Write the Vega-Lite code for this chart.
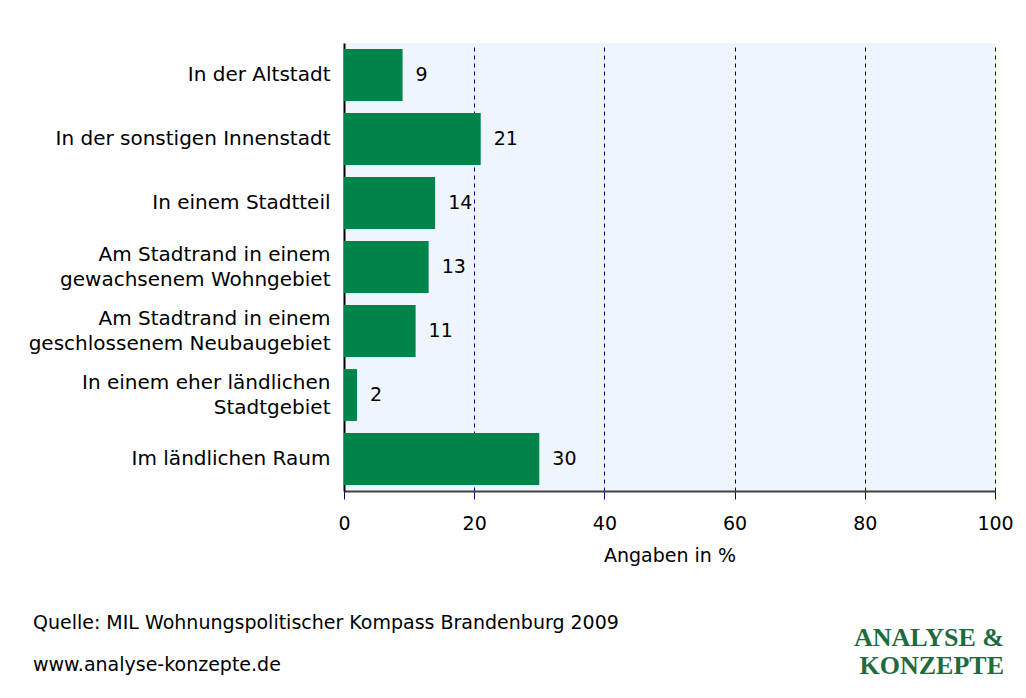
{
  "$schema": "https://vega.github.io/schema/vega-lite/v6.json",
  "autosize": "pad",
  "padding": {"left": 28, "top": 43, "right": 21, "bottom": 20},
  "background": "white",
  "bounds": "flush",
  "title": {
    "text": "Quelle: MIL Wohnungspolitischer Kompass Brandenburg 2009",
    "subtitle": "www.analyse-konzepte.de",
    "orient": "bottom",
    "anchor": "start",
    "frame": "group",
    "offset": -65,
    "dx": -311,
    "font": "DejaVu Sans",
    "fontSize": 19,
    "fontWeight": "normal",
    "color": "#000000",
    "subtitleFont": "DejaVu Sans",
    "subtitleFontSize": 19,
    "subtitleColor": "#000000",
    "subtitlePadding": 23
  },
  "config": {
    "view": {"stroke": null},
    "font": "DejaVu Sans"
  },
  "data": {
    "values": [
      {"cat": "In der Altstadt", "value": 9},
      {"cat": "In der sonstigen Innenstadt", "value": 21},
      {"cat": "In einem Stadtteil", "value": 14},
      {"cat": "Am Stadtrand in einem|gewachsenem Wohngebiet", "value": 13},
      {"cat": "Am Stadtrand in einem|geschlossenem Neubaugebiet", "value": 11},
      {"cat": "In einem eher ländlichen|Stadtgebiet", "value": 2},
      {"cat": "Im ländlichen Raum", "value": 30}
    ]
  },
  "vconcat": [
    {
      "width": 651,
      "height": 448,
      "view": {"fill": "#EEF5FD", "stroke": null},
      "title": {
        "text": "ANALYSE &",
        "subtitle": "KONZEPTE",
        "orient": "bottom",
        "anchor": "end",
        "frame": "group",
        "offset": 60,
        "dx": 9,
        "font": "Liberation Serif",
        "fontSize": 26,
        "fontWeight": "bold",
        "color": "#1E6B3E",
        "subtitleFont": "Liberation Serif",
        "subtitleFontSize": 26,
        "subtitleFontWeight": "bold",
        "subtitleColor": "#1E6B3E",
        "subtitlePadding": 2
      },
      "encoding": {
        "y": {
          "field": "cat",
          "type": "nominal",
          "sort": null,
          "scale": {"paddingInner": 0.19, "paddingOuter": 0.095},
          "axis": {
            "title": null,
            "labelExpr": "split(datum.label, '|')",
            "labelFontSize": 20,
            "labelColor": "#000000",
            "labelPadding": 14,
            "labelLineHeight": 25,
            "labelOffset": {"condition": {"test": "indexof(datum.value, '|') >= 0", "value": -12}, "value": 0},
            "labelLimit": 400,
            "ticks": false,
            "domain": true,
            "domainColor": "#000000",
            "domainWidth": 2
          }
        },
        "x": {
          "field": "value",
          "type": "quantitative",
          "scale": {"domain": [0, 100], "nice": false},
          "axis": {
            "title": "Angaben in %",
            "titleFontSize": 19,
            "titleFontWeight": "normal",
            "titleColor": "#000000",
            "titlePadding": 13,
            "values": [0, 20, 40, 60, 80, 100],
            "labelFontSize": 19,
            "labelColor": "#000000",
            "labelPadding": 15,
            "labelFlush": false,
            "tickColor": "#000080",
            "tickSize": 8,
            "tickWidth": 1,
            "domainColor": "#404040",
            "domainWidth": 2,
            "grid": true,
            "gridColor": "#000080",
            "gridDash": [4, 4],
            "gridWidth": 1
          }
        }
      },
      "layer": [
        {"mark": {"type": "bar", "color": "#00844A"}},
        {
          "mark": {"type": "text", "align": "left", "baseline": "middle", "dx": 13, "fontSize": 19, "color": "#000000"},
          "encoding": {"text": {"field": "value", "type": "quantitative"}}
        }
      ]
    }
  ]
}
